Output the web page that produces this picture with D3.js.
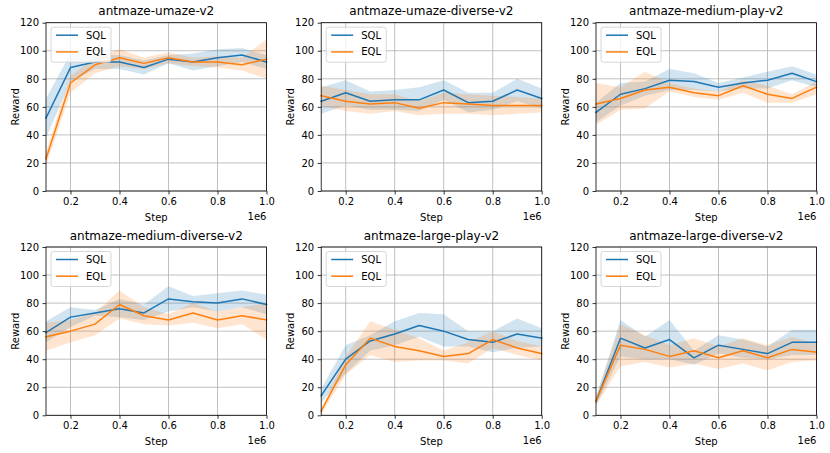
<!DOCTYPE html>
<html><head><meta charset="utf-8">
<script src="https://cdn.jsdelivr.net/npm/d3@7"></script>
<style>body{margin:0;background:#fff}svg{display:block}text{font-family:"DejaVu Sans",sans-serif;fill:#000}</style>
</head><body><svg id="c" width="830" height="453"></svg>
<script>
const steps = [0.1,0.2,0.3,0.4,0.5,0.6,0.7,0.8,0.9,1.0];
const titles = ["antmaze-umaze-v2","antmaze-umaze-diverse-v2","antmaze-medium-play-v2","antmaze-medium-diverse-v2","antmaze-large-play-v2","antmaze-large-diverse-v2"];
const seriesNames = ["SQL","EQL"];
const xTicks = [0.2,0.4,0.6,0.8,1.0];
const yTicks = [0,20,40,60,80,100,120];

const sqlMean = [
 [52,88,92,92,88,94,92,95,97,92],
 [64,70,64,65,65,72,63,64,72,66],
 [56,69,73,79,78,74,77,79,84,78],
 [59,70,73,76,73,83,81,80,83,79],
 [14,40,53,58,64,60,54,52,58,55],
 [10,55,48,54,41,50,47,44,52,52]];
const sqlUpper = [
 [66,98,97,97,93,97,98,101,102,97],
 [74,79,71,72,74,79,70,70,80,73],
 [63,77,78,87,84,77,81,85,89,83],
 [67,77,75,83,79,92,85,87,89,86],
 [19,50,57,67,73,72,60,60,69,62],
 [13,68,56,68,46,57,54,49,61,61]];
const sqlLower = [
 [38,78,87,87,83,91,86,89,92,87],
 [55,61,58,58,57,65,56,58,64,59],
 [49,61,68,72,72,71,73,73,79,74],
 [52,63,71,70,68,74,77,74,77,72],
 [9,30,46,50,56,49,49,45,48,49],
 [7,42,40,40,36,44,41,40,43,43]];
const eqlMean = [
 [23,77,90,95,91,95,92,92,90,94],
 [68,64,62,63,59,63,62,61,61,61],
 [62,66,72,74,70,68,75,69,66,74],
 [56,60,65,79,71,68,73,68,71,68],
 [3,36,55,49,46,42,44,54,48,44],
 [10,50,47,42,46,41,46,41,47,45]];
const eqlUpper = [
 [28,82,95,101,95,99,95,96,95,108],
 [75,72,69,69,64,70,69,68,67,66],
 [77,74,85,77,73,71,79,75,69,78],
 [66,68,73,89,77,72,80,74,77,80],
 [5,42,67,61,55,46,52,60,53,49],
 [13,65,57,50,55,49,55,50,56,51]];
const eqlLower = [
 [18,70,84,89,87,91,89,88,86,80],
 [61,57,55,57,54,55,55,54,55,56],
 [47,58,59,71,67,65,70,63,63,69],
 [46,52,57,69,65,64,66,62,65,54],
 [1,29,43,38,39,39,37,48,43,39],
 [7,35,38,34,37,33,37,32,38,39]];

const colors = ["#1f77b4","#ff7f0e"];
const svg = d3.select("#c");
const W = 220.5, H = 168.3;
const lefts = [46, 321.2, 596], tops = [22.7, 247];

titles.forEach((t, i) => {
  const col = i % 3, row = Math.floor(i / 3);
  const g = svg.append("g").attr("transform", `translate(${lefts[col]},${tops[row]})`);
  const x = d3.scaleLinear().domain([0.1, 1.0]).range([0, W]);
  const y = d3.scaleLinear().domain([0, 120]).range([H, 0]);

  // grid
  g.append("g").selectAll("line").data(xTicks).join("line")
    .attr("x1", d => x(d)).attr("x2", d => x(d)).attr("y1", 0).attr("y2", H)
    .attr("stroke", "#b0b0b0").attr("stroke-width", 0.8);
  g.append("g").selectAll("line").data(yTicks).join("line")
    .attr("y1", d => y(d)).attr("y2", d => y(d)).attr("x1", 0).attr("x2", W)
    .attr("stroke", "#b0b0b0").attr("stroke-width", 0.8);

  const sets = [
    {m: sqlMean[i], u: sqlUpper[i], l: sqlLower[i]},
    {m: eqlMean[i], u: eqlUpper[i], l: eqlLower[i]}];
  const area = d3.area().x((d, k) => x(steps[k])).y0(d => y(d[0])).y1(d => y(d[1]));
  const line = d3.line().x((d, k) => x(steps[k])).y(d => y(d));
  sets.forEach((s, k) => {
    g.append("path").datum(s.l.map((v, j) => [v, s.u[j]])).attr("d", area)
      .attr("fill", colors[k]).attr("fill-opacity", 0.2).attr("stroke", "none");
  });
  sets.forEach((s, k) => {
    g.append("path").datum(s.m).attr("d", line).attr("fill", "none")
      .attr("stroke", colors[k]).attr("stroke-width", 1.5).attr("stroke-linejoin", "round").attr("stroke-linecap", "square");
  });

  // axes
  const xa = g.append("g").attr("transform", `translate(0,${H})`)
    .call(d3.axisBottom(x).tickValues(xTicks).tickFormat(d3.format(".1f")).tickSizeOuter(0).tickSize(3.5).tickPadding(3.5));
  const ya = g.append("g")
    .call(d3.axisLeft(y).tickValues(yTicks).tickSizeOuter(0).tickSize(3.5).tickPadding(3.5));
  [xa, ya].forEach(a => {
    a.select(".domain").remove();
    a.selectAll("line").attr("stroke", "#000").attr("stroke-width", 0.8);
    a.selectAll("text").attr("font-size", 10).attr("font-family", "DejaVu Sans").attr("fill", "#000");
  });
  g.append("rect").attr("x", 0).attr("y", 0).attr("width", W).attr("height", H)
    .attr("fill", "none").attr("stroke", "#000").attr("stroke-width", 0.8);

  g.append("text").attr("x", W / 2).attr("y", -7.5).attr("text-anchor", "middle")
    .attr("font-size", 12).text(t);
  g.append("text").attr("x", W / 2).attr("y", H + 30).attr("text-anchor", "middle")
    .attr("font-size", 10).text("Step");
  g.append("text").attr("x", W).attr("y", H + 29).attr("text-anchor", "end")
    .attr("font-size", 10).text("1e6");
  g.append("text").attr("transform", `translate(${-27.5},${H / 2}) rotate(-90)`)
    .attr("text-anchor", "middle").attr("font-size", 10).text("Reward");

  // legend
  const lg = g.append("g").attr("transform", "translate(5,4.5)");
  lg.append("rect").attr("width", 60).attr("height", 35).attr("rx", 2.5)
    .attr("fill", "#fff").attr("fill-opacity", 0.8).attr("stroke", "#cccccc").attr("stroke-width", 0.8);
  seriesNames.forEach((n, k) => {
    const yy = 8 + k * 16.7;
    lg.append("line").attr("x1", 5).attr("x2", 27).attr("y1", yy).attr("y2", yy)
      .attr("stroke", colors[k]).attr("stroke-width", 1.5);
    lg.append("text").attr("x", 35).attr("y", yy + 3.6).attr("font-size", 10).text(n);
  });
});
</script></body></html>
